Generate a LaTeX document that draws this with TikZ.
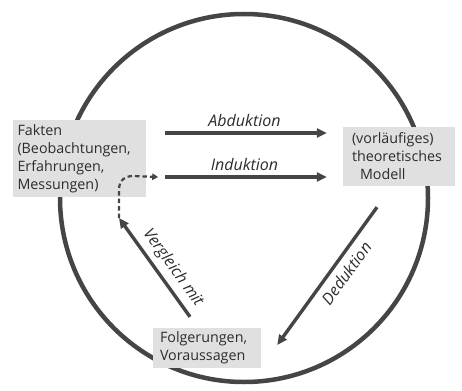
\documentclass[tikz,border=0pt]{standalone}
\usepackage{fontspec}
\setmainfont{Open Sans}
\usetikzlibrary{arrows.meta}
\definecolor{linegray}{HTML}{454545}
\definecolor{boxgray}{HTML}{E0E0E0}
\definecolor{textgray}{HTML}{2C2C2C}
\begin{document}
\begin{tikzpicture}[x=1pt,y=1pt,
    box/.style={fill=boxgray,align=left,inner sep=0pt,text=textgray,
      font=\fontsize{14.3}{18}\selectfont},
    arr/.style={draw=linegray,line width=3.4pt,-{Triangle[length=10pt,width=9pt]}},
    dasharr/.style={draw=linegray,line width=2.2pt,dash pattern=on 4.5pt off 3pt,
      -{Triangle[length=6pt,width=6.5pt]}},
    lab/.style={text=textgray,font=\fontsize{16}{18}\selectfont\itshape,inner sep=2pt}]
        \useasboundingbox (0,0) rectangle (462,-390);
        \draw[linegray,line width=4.5pt] (244,-198) circle (184);
        \node[box,minimum width=133,minimum height=77,text width=124] (fakten) at (79.5,-158.5)
          {Fakten\\(Beobachtungen,\\Erfahrungen,\\Messungen)};
        \node[box,minimum width=112,minimum height=59,text width=94] (modell) at (399,-156.5)
          {(vorläufiges)\\theoretisches\\\hspace*{8pt}Modell};
        \node[box,minimum width=108,minimum height=40,text width=94] (folg) at (207,-348)
          {Folgerungen,\\Voraussagen};
        \coordinate (abd) at (0,-133);
        \coordinate (ind) at (0,-177);
        \coordinate (vtip) at (119,-218);
        \draw[arr,shorten <=19pt,shorten >=16pt] (fakten.east |- abd) -- (modell.west |- abd)
          node[lab,midway,above=3pt] {Abduktion};
        \draw[arr,shorten <=19pt,shorten >=16pt] (fakten.east |- ind) -- (modell.west |- ind)
          node[lab,midway,above=3pt] {Induktion};
        \draw[arr] ([xshift=-22pt,yshift=-21pt]modell.south) -- ([xshift=16pt,yshift=3pt]folg.east)
          node[lab,pos=0.42,sloped,below=4pt] {Deduktion};
        \draw[arr] ([xshift=-17pt,yshift=11pt]folg.north) -- (vtip)
          node[lab,pos=0.41,sloped,above=3pt] {Vergleich mit};
        \draw[dasharr] (vtip) -- ++(0,28) .. controls +(0,10) and +(-8,0) .. ++(14,14)
          -- ([xshift=12pt]fakten.east |- ind);
\end{tikzpicture}
\end{document}
